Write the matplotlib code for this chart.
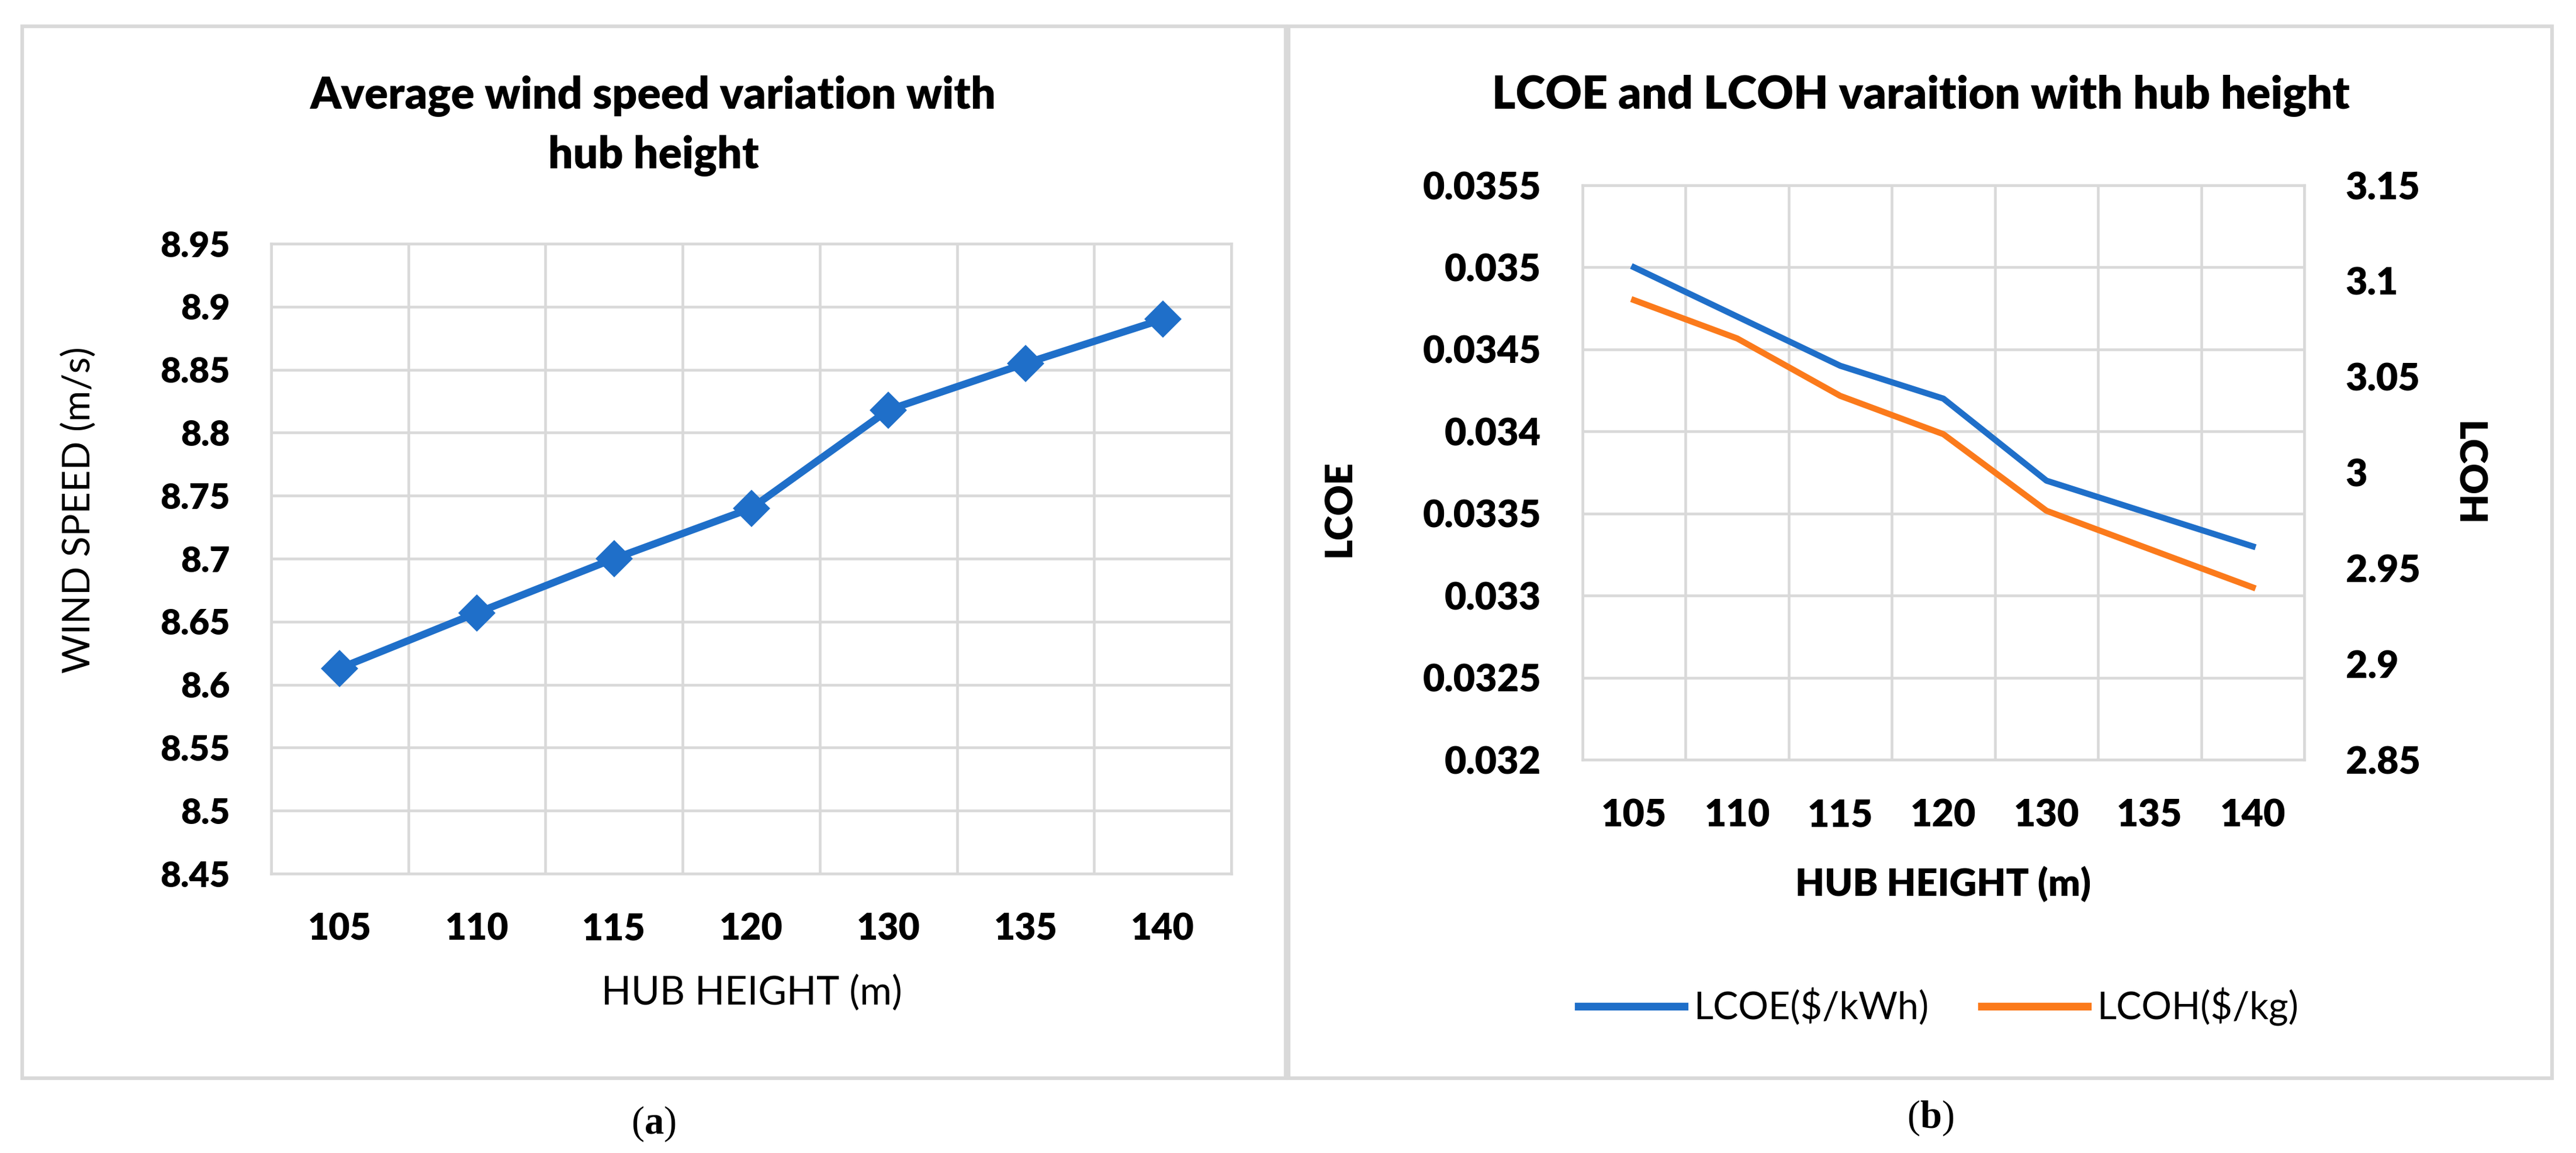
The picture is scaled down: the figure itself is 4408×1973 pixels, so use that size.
#!/usr/bin/env python3
"""hub height study: wind speed, LCOE and LCOH"""
import numpy as np
import matplotlib
matplotlib.use("Agg")
import matplotlib.pyplot as plt
from matplotlib.patches import Rectangle
from matplotlib.ticker import FixedLocator, FormatStrFormatter

plt.rcParams['font.family'] = ['Lato', 'DejaVu Sans']
plt.rcParams['mathtext.fontset'] = 'custom'
plt.rcParams['mathtext.rm'] = 'Liberation Serif'
plt.rcParams['mathtext.bf'] = 'Liberation Serif:bold'

# data
hub_heights = ['105', '110', '115', '120', '130', '135', '140']
wind_speed = [8.613, 8.657, 8.700, 8.740, 8.818, 8.855, 8.890]
lcoe = [0.0350, 0.0347, 0.0344, 0.0342, 0.0337, 0.0335, 0.0333]
lcoh = [3.09, 3.07, 3.04, 3.02, 2.98, 2.96, 2.94]

GRID = '#d9d9d9'
BLUE = '#1f6fc9'
ORANGE = '#fb7a1b'
BOLD = 'heavy'


def style_axes(ax, n):
    """excel-like category axis with grid lines between categories"""
    ax.set_xlim(-0.5, n - 0.5)
    ax.set_xticks(np.arange(n))
    ax.xaxis.set_minor_locator(FixedLocator(np.arange(n + 1) - 0.5))
    ax.grid(True, which='minor', axis='x', color=GRID, lw=1.1)
    ax.grid(True, which='major', axis='y', color=GRID, lw=1.1)
    ax.tick_params(which='both', length=0)
    for sp in ax.spines.values():
        sp.set_color(GRID)
        sp.set_linewidth(1.1)
    ax.set_axisbelow(True)


fig = plt.figure(figsize=(4408 / 300, 1973 / 300), dpi=300)

# panel frames
for x0 in (38 / 4408, 2205 / 4408):
    fig.patches.append(Rectangle((x0, 128 / 1973), 2162 / 4408, 1800 / 1973,
                                 transform=fig.transFigure, fill=False,
                                 edgecolor=GRID, lw=1.5))

# (a) wind speed
ax1 = fig.add_axes([464 / 4408, 1 - 1495 / 1973, 1643 / 4408, 1078 / 1973])
xx = np.arange(len(hub_heights))
ax1.plot(xx, wind_speed, color=BLUE, lw=3.0, marker='D', markersize=10)
style_axes(ax1, len(hub_heights))
ax1.set_ylim(8.45, 8.95)
ax1.set_yticks(np.round(np.arange(8.45, 8.951, 0.05), 2))
ax1.yaxis.set_major_formatter(FormatStrFormatter('%g'))
ax1.set_xticklabels(hub_heights)
ax1.tick_params(axis='y', labelsize=14.5, pad=17)
ax1.tick_params(axis='x', labelsize=15, pad=16)
for lab in ax1.get_xticklabels() + ax1.get_yticklabels():
    lab.set_fontweight(BOLD)

fig.text(1118 / 4408, 1 - 164 / 1973, 'Average wind speed variation with',
         ha='center', va='center', fontsize=18, fontweight=BOLD)
fig.text(1118 / 4408, 1 - 266 / 1973, 'hub height',
         ha='center', va='center', fontsize=18, fontweight=BOLD)
fig.text(134 / 4408, 1 - 873 / 1973, 'WIND SPEED (m/s)', rotation=90,
         ha='center', va='center', fontsize=15.5)
fig.text(1286 / 4408, 1 - 1700 / 1973, 'HUB HEIGHT (m)',
         ha='center', va='center', fontsize=16)

# (b) LCOE and LCOH
ax2 = fig.add_axes([2708 / 4408, 1 - 1300 / 1973, 1235 / 4408, 983 / 1973])
l1, = ax2.plot(xx, lcoe, color=BLUE, lw=2.5, label='LCOE($/kWh)')
style_axes(ax2, len(hub_heights))
ax2.set_ylim(0.032, 0.0355)
ax2.set_yticks(np.round(np.arange(0.032, 0.03551, 0.0005), 4))
ax2.yaxis.set_major_formatter(FormatStrFormatter('%g'))
ax2.set_xticklabels(hub_heights)
ax2.tick_params(axis='y', labelsize=15.5, pad=17)
ax2.tick_params(axis='x', labelsize=15.5, pad=16)
for lab in ax2.get_xticklabels() + ax2.get_yticklabels():
    lab.set_fontweight(BOLD)

ax3 = ax2.twinx()
l2, = ax3.plot(xx, lcoh, color=ORANGE, lw=2.5, label='LCOH($/kg)')
ax3.set_ylim(2.85, 3.15)
ax3.set_yticks(np.round(np.arange(2.85, 3.151, 0.05), 2))
ax3.yaxis.set_major_formatter(FormatStrFormatter('%g'))
ax3.tick_params(length=0, labelsize=15.5, pad=17)
for lab in ax3.get_yticklabels():
    lab.set_fontweight(BOLD)
for sp in ax3.spines.values():
    sp.set_visible(False)

fig.text(3287 / 4408, 1 - 164 / 1973, 'LCOE and LCOH varaition with hub height',
         ha='center', va='center', fontsize=18.5, fontweight=BOLD)
fig.text(2292 / 4408, 1 - 870 / 1973, 'LCOE', rotation=90,
         ha='center', va='center', fontsize=15.5, fontweight=BOLD)
fig.text(4222 / 4408, 1 - 810 / 1973, 'LCOH', rotation=270,
         ha='center', va='center', fontsize=15.5, fontweight=BOLD)
fig.text(3325 / 4408, 1 - 1512 / 1973, 'HUB HEIGHT (m)',
         ha='center', va='center', fontsize=15.5, fontweight=BOLD)

leg = fig.legend(handles=[l1, l2], loc='center', ncol=2, frameon=False,
                 bbox_to_anchor=(3317 / 4408, 1 - 1723 / 1973), fontsize=15.5,
                 handlelength=2.8, handletextpad=0.25, columnspacing=1.4)
for line in leg.get_lines():
    line.set_linewidth(3.2)

# sub-figure labels
fig.text(1118 / 4408, 1 - 1923 / 1973, r'($\mathbf{a}$)', ha='center',
         va='center', fontsize=16, family='Liberation Serif')
fig.text(3303 / 4408, 1 - 1913 / 1973, r'($\mathbf{b}$)', ha='center',
         va='center', fontsize=16, family='Liberation Serif')

fig.savefig('out.png', dpi=300)
